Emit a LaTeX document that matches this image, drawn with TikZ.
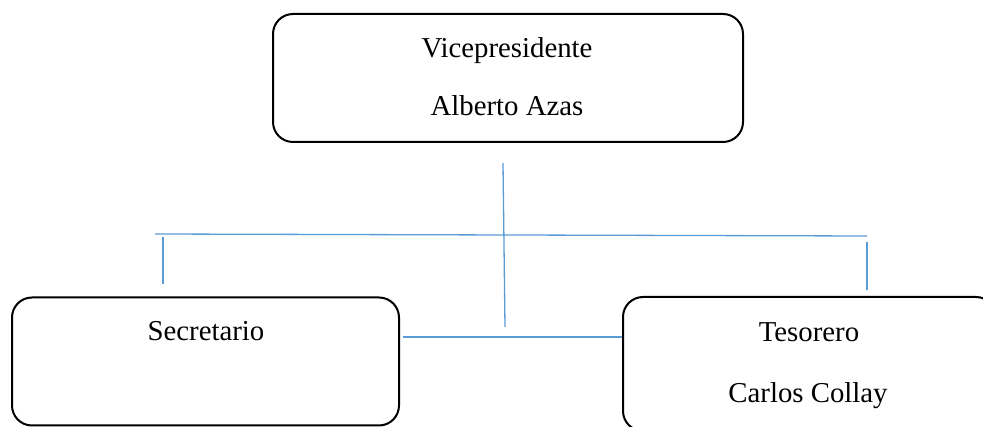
\documentclass[tikz,border=0pt]{standalone}
\usepackage{fontspec}
\setmainfont{Liberation Serif}
\begin{document}
\begin{tikzpicture}[x=1pt,y=-1pt,
  box/.style={draw=black,line width=2pt,rounded corners=20pt,inner sep=0pt},
  lbl/.style={anchor=base,inner sep=0pt,font=\fontsize{28.8}{34}\selectfont},
  conn/.style={draw={rgb,255:red,91;green,155;blue,213},line width=1.3pt}]
\useasboundingbox (0,0) rectangle (983,427);
\clip (0,0) rectangle (983,427);
% boxes
\node[box,minimum width=470pt,minimum height=128pt] (vp) at (508,78) {};
\node[box,minimum width=387pt,minimum height=128pt] (sec) at (205.5,361.5) {};
\node[box,minimum width=373pt,minimum height=134pt] (tes) at (809.5,364) {};
% texts
\node[lbl] (vpt) at (507,58) {Vicepresidente};
\node[lbl] (vpn) at (507,116) {Alberto Azas};
\node[lbl] (sect) at (206,341) {Secretario};
\node[lbl] (test) at (809,342) {Tesorero};
\node[lbl] (tesn) at (808,403) {Carlos Collay};
% connector coordinates
\coordinate (c1) at (503,163);
\coordinate (c2) at (505,327);
\coordinate (h1) at (155,234);
\coordinate (h2) at (867,236);
\coordinate (l1) at (163,237);
\coordinate (l2) at (163,284);
\coordinate (r1) at (867,242);
\coordinate (r2) at (867,290);
\coordinate (b1) at (403,337);
\coordinate (b2) at (622,337);
\draw[conn] (c1) -- (c2);
\draw[conn] (h1) -- (h2);
\draw[conn] (l1) -- (l2);
\draw[conn] (r1) -- (r2);
\draw[conn] (b1) -- (b2);
\end{tikzpicture}
\end{document}
